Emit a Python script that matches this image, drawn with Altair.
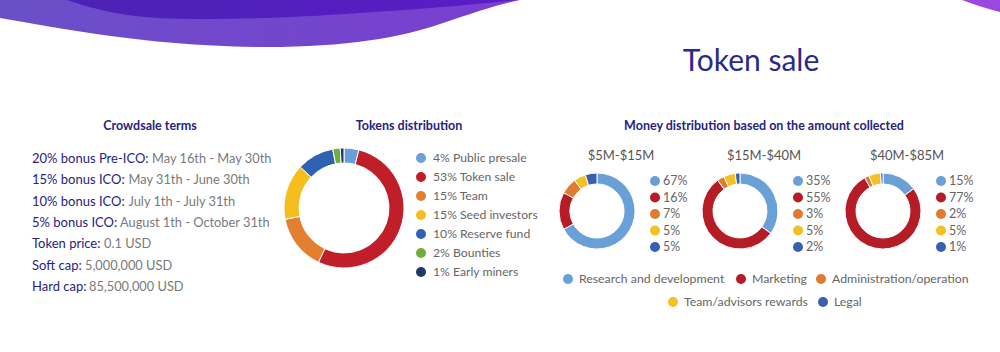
import altair as alt
import pandas as pd

# ---------------- data ----------------
terms_labels = ["20% bonus Pre-ICO:", "15% bonus ICO:", "10% bonus ICO:", "5% bonus ICO:",
                "Token price:", "Soft cap:", "Hard cap:"]
terms_values = ["May 16th - May 30th", "May 31th - June 30th", "July 1th - July 31th",
                "August 1th - October 31th", "0.1 USD", "5,000,000 USD", "85,500,000 USD"]

token_cats = ["Public presale", "Token sale", "Team", "Seed investors",
              "Reserve fund", "Bounties", "Early miners"]
token_pct = [4, 53, 15, 15, 10, 2, 1]

money_cats = ["Research and development", "Marketing", "Administration/operation",
              "Team/advisors rewards", "Legal"]
money_ranges = ["$5M-$15M", "$15M-$40M", "$40M-$85M"]
money_low = [67, 16, 7, 5, 5]
money_mid = [35, 55, 3, 5, 2]
money_high = [15, 77, 2, 5, 1]

# ---------------- style / layout ----------------
TOKEN_COLORS = ["#6a9fd8", "#c01f29", "#e47f32", "#f6bd1f", "#2f62b0", "#6fae3c", "#1d3a66"]
MONEY_COLORS = ["#6aa0d8", "#b51c25", "#e07b30", "#f4c026", "#3a5fb0"]
NAVY = "#27247f"
VAL_GRAY = "#7a7a7a"
LEG_GRAY = "#666666"
FONT = "Lato"
VALUE_X = [152, 128.5, 128.5, 120, 104, 85, 89]   # where each term's value text starts


def grad(c0, c1):
    return {"gradient": "linear", "x1": 0, "x2": 1, "y1": 0, "y2": 0,
            "stops": [{"offset": 0, "color": c0}, {"offset": 1, "color": c1}]}


one = pd.DataFrame({"a": [0]})


def shape_layer(path, fill):
    return alt.Chart(one).mark_point(shape=path, size=4, filled=True, fill=fill,
                                     opacity=1, strokeWidth=0).encode(
        x=alt.value(0), y=alt.value(0))


wave_light = shape_layer(
    "M0,0 L0,18 C60,28 140,45 255,47 C340,48 400,38 440,24 C475,12 500,4 520,0 Z",
    grad("#6a50c8", "#7a3ecf"))
wave_dark = shape_layer(
    "M67,0 C80,4 95,10 127,15 C150,18 170,19 200,19 C260,19 300,17 360,13 C420,9 470,5 517,0 Z",
    grad("#4b22b5", "#5b1cc6"))
wave_right = shape_layer("M962,0 C975,5 988,9 1000,12 L1000,0 Z", "#9a48e0")


def text_at(txt, x, y, size, color, weight="normal", align="center"):
    return alt.Chart(one).mark_text(text=txt, font=FONT, fontSize=size, color=color,
                                    fontWeight=weight, align=align, baseline="middle").encode(
        x=alt.value(x), y=alt.value(y))


title = text_at("Token sale", 751, 62, 30, "#2a2a8a")
h1 = text_at("Crowdsale terms", 150, 126, 12.5, NAVY, "bold")
h2 = text_at("Tokens distribution", 409, 126, 12.5, NAVY, "bold")
h3 = text_at("Money distribution based on the amount collected", 764, 126, 12.5, NAVY, "bold")

# ---- crowdsale terms ----
terms_df = pd.DataFrame({
    "k": list(range(len(terms_labels))),
    "label": terms_labels,
    "value": terms_values,
    "vx": VALUE_X,
})
ty = alt.Y("k:Q", scale=alt.Scale(domain=[0, 6], range=[159, 287]), axis=None)
terms_lab = alt.Chart(terms_df).mark_text(font=FONT, fontSize=13, color=NAVY,
                                          align="left", baseline="middle").encode(
    x=alt.value(32), y=ty, text="label:N")
terms_val = alt.Chart(terms_df).mark_text(font=FONT, fontSize=12.8, color=VAL_GRAY,
                                          align="left", baseline="middle").encode(
    x=alt.X("vx:Q", scale=None), y=ty, text="value:N")


def donut(cats, vals, colors, cx, cy, r_in, r_out):
    df = pd.DataFrame({"cat": cats, "pct": vals, "col": colors, "k": list(range(len(cats)))})
    return alt.Chart(df).mark_arc(innerRadius=r_in, outerRadius=r_out,
                                  stroke="white", strokeWidth=1).encode(
        theta=alt.Theta("pct:Q", stack=True),
        color=alt.Color("col:N", scale=None),
        order=alt.Order("k:Q"),
        x=alt.value(cx), y=alt.value(cy))


def legend(labels, colors, xdot, xtext, top, bottom, size):
    n = len(labels)
    df = pd.DataFrame({"k": list(range(n)), "lab": labels, "col": colors})
    y = alt.Y("k:Q", scale=alt.Scale(domain=[0, n - 1], range=[top, bottom]), axis=None)
    dots = alt.Chart(df).mark_circle(size=100, opacity=1).encode(
        x=alt.value(xdot), y=y, color=alt.Color("col:N", scale=None))
    txt = alt.Chart(df).mark_text(font=FONT, fontSize=size, color=LEG_GRAY,
                                  align="left", baseline="middle").encode(
        x=alt.value(xtext), y=y, text="lab:N")
    return [dots, txt]


token_donut = donut(token_cats, token_pct, TOKEN_COLORS, 344, 208, 45, 60)
token_leg = legend([f"{p}% {c}" for p, c in zip(token_pct, token_cats)], TOKEN_COLORS,
                   421, 433, 158, 272, 12.2)

money_layers = []
centers = [597, 740, 883]
for rng, vals, cx in zip(money_ranges, [money_low, money_mid, money_high], centers):
    money_layers.append(text_at(rng, cx + 24, 156, 13, "#555555"))
    money_layers.append(donut(money_cats, vals, MONEY_COLORS, cx, 211, 27, 38))
    money_layers += legend([f"{v}%" for v in vals], MONEY_COLORS, cx + 58, cx + 66, 181, 247, 12.5)

# bottom legend
bl_x = [568, 741, 821, 673, 823]
bl_y = [279, 279, 279, 302, 302]
bl_df = pd.DataFrame({"lab": money_cats, "col": MONEY_COLORS, "px": bl_x, "py": bl_y})
bl_dots = alt.Chart(bl_df).mark_circle(size=100, opacity=1).encode(
    x=alt.X("px:Q", scale=None), y=alt.Y("py:Q", scale=None),
    color=alt.Color("col:N", scale=None))
bl_txt = alt.Chart(bl_df).mark_text(font=FONT, fontSize=12.3, color=LEG_GRAY, align="left",
                                    baseline="middle", dx=11).encode(
    x=alt.X("px:Q", scale=None), y=alt.Y("py:Q", scale=None), text="lab:N")

layers = [wave_light, wave_dark, wave_right, title, h1, h2, h3, terms_lab, terms_val,
          token_donut] + token_leg + money_layers + [bl_dots, bl_txt]

chart = alt.layer(*layers).resolve_scale(
    x="independent", y="independent", theta="independent", color="independent"
).properties(
    width=1000, height=352, padding=0, autosize=alt.AutoSizeParams(type="none"),
    background="white"
).configure_view(stroke=None)

chart.save("out.html", embed_options={"renderer": "svg", "actions": False})
